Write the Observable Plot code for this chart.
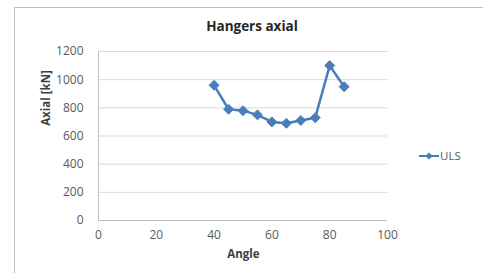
<!DOCTYPE html>
<html>
<head>
<meta charset="utf-8">
<script src="https://cdn.jsdelivr.net/npm/d3@7"></script>
<script src="https://cdn.jsdelivr.net/npm/@observablehq/plot@0.6"></script>
<style>
  html, body { margin: 0; padding: 0; background: #fff; }
  #wrap { position: relative; width: 483px; height: 273px; overflow: hidden; font-family: "Open Sans", sans-serif; }
  #frame { position: absolute; left: 14px; top: 7px; width: 480px; height: 280px; border: 1px solid #bfbfbf; box-sizing: border-box; }
  .lbl { position: absolute; color: #404040; font-weight: bold; white-space: nowrap; }
  #title { left: 0; width: 504px; top: 17px; text-align: center; font-size: 13.5px; color: #262626; }
  #xlab { left: 0; width: 487px; top: 246px; text-align: center; font-size: 11.5px; }
  #ylab { left: 45px; top: 98px; font-size: 11.5px; transform: translate(-50%, -50%) rotate(-90deg); }
  #legend { position: absolute; left: 418px; top: 148px; font-size: 11.5px; color: #595959; display: flex; align-items: center; }
  svg.plot { position: absolute; left: 0; top: 0; }
</style>
</head>
<body>
<div id="wrap">
  <div id="frame"></div>
</div>
<script>
const angles = [40, 45, 50, 55, 60, 65, 70, 75, 80, 85];
const axial = [960, 790, 780, 750, 700, 690, 710, 730, 1100, 950];
const xTicks = [0, 20, 40, 60, 80, 100];
const yTicks = [0, 200, 400, 600, 800, 1000, 1200];
const seriesName = "ULS";
const titleText = "Hangers axial";
const xLabel = "Angle";
const yLabel = "Axial  [kN]";

const data = angles.map((a, i) => ({angle: a, value: axial[i]}));
const blue = "#4a7ebb";

const chart = Plot.plot({
  width: 483,
  height: 273,
  marginLeft: 98,
  marginRight: 96,
  marginTop: 51,
  marginBottom: 53,
  style: {fontFamily: "Open Sans, sans-serif", fontSize: "12px", background: "transparent"},
  x: {domain: [0, 100]},
  y: {domain: [0, 1200]},
  marks: [
    Plot.ruleY(yTicks.filter(d => d > 0), {stroke: "#d9d9d9", strokeWidth: 1}),
    Plot.ruleY([0], {stroke: "#bfbfbf", strokeWidth: 1}),
    Plot.ruleX([0], {stroke: "#bfbfbf", strokeWidth: 1}),
    Plot.axisY({ticks: yTicks, tickSize: 0, tickPadding: 15, label: null, fill: "#595959", tickFormat: d => String(d)}),
    Plot.axisX({ticks: xTicks, tickSize: 0, tickPadding: 10, label: null, fill: "#595959", tickFormat: d => String(d)}),
    Plot.line(data, {x: "angle", y: "value", stroke: blue, strokeWidth: 2.5}),
    Plot.dot(data, {x: "angle", y: "value", symbol: "diamond2", r: 4.5, fill: blue, stroke: blue, strokeWidth: 1})
  ]
});

const wrap = document.getElementById("wrap");
wrap.appendChild(chart);

const t = document.createElement("div"); t.className = "lbl"; t.id = "title"; t.textContent = titleText; wrap.appendChild(t);
const xl = document.createElement("div"); xl.className = "lbl"; xl.id = "xlab"; xl.textContent = xLabel; wrap.appendChild(xl);
const yl = document.createElement("div"); yl.className = "lbl"; yl.id = "ylab"; yl.textContent = yLabel; wrap.appendChild(yl);

const lg = document.createElement("div"); lg.id = "legend";
lg.innerHTML = `<svg width="22" height="10"><line x1="1" y1="5" x2="21" y2="5" stroke="${blue}" stroke-width="2"/><path d="M11,1.5L14.5,5L11,8.5L7.5,5Z" fill="${blue}"/></svg><span>${seriesName}</span>`;
wrap.appendChild(lg);
</script>
</body>
</html>
